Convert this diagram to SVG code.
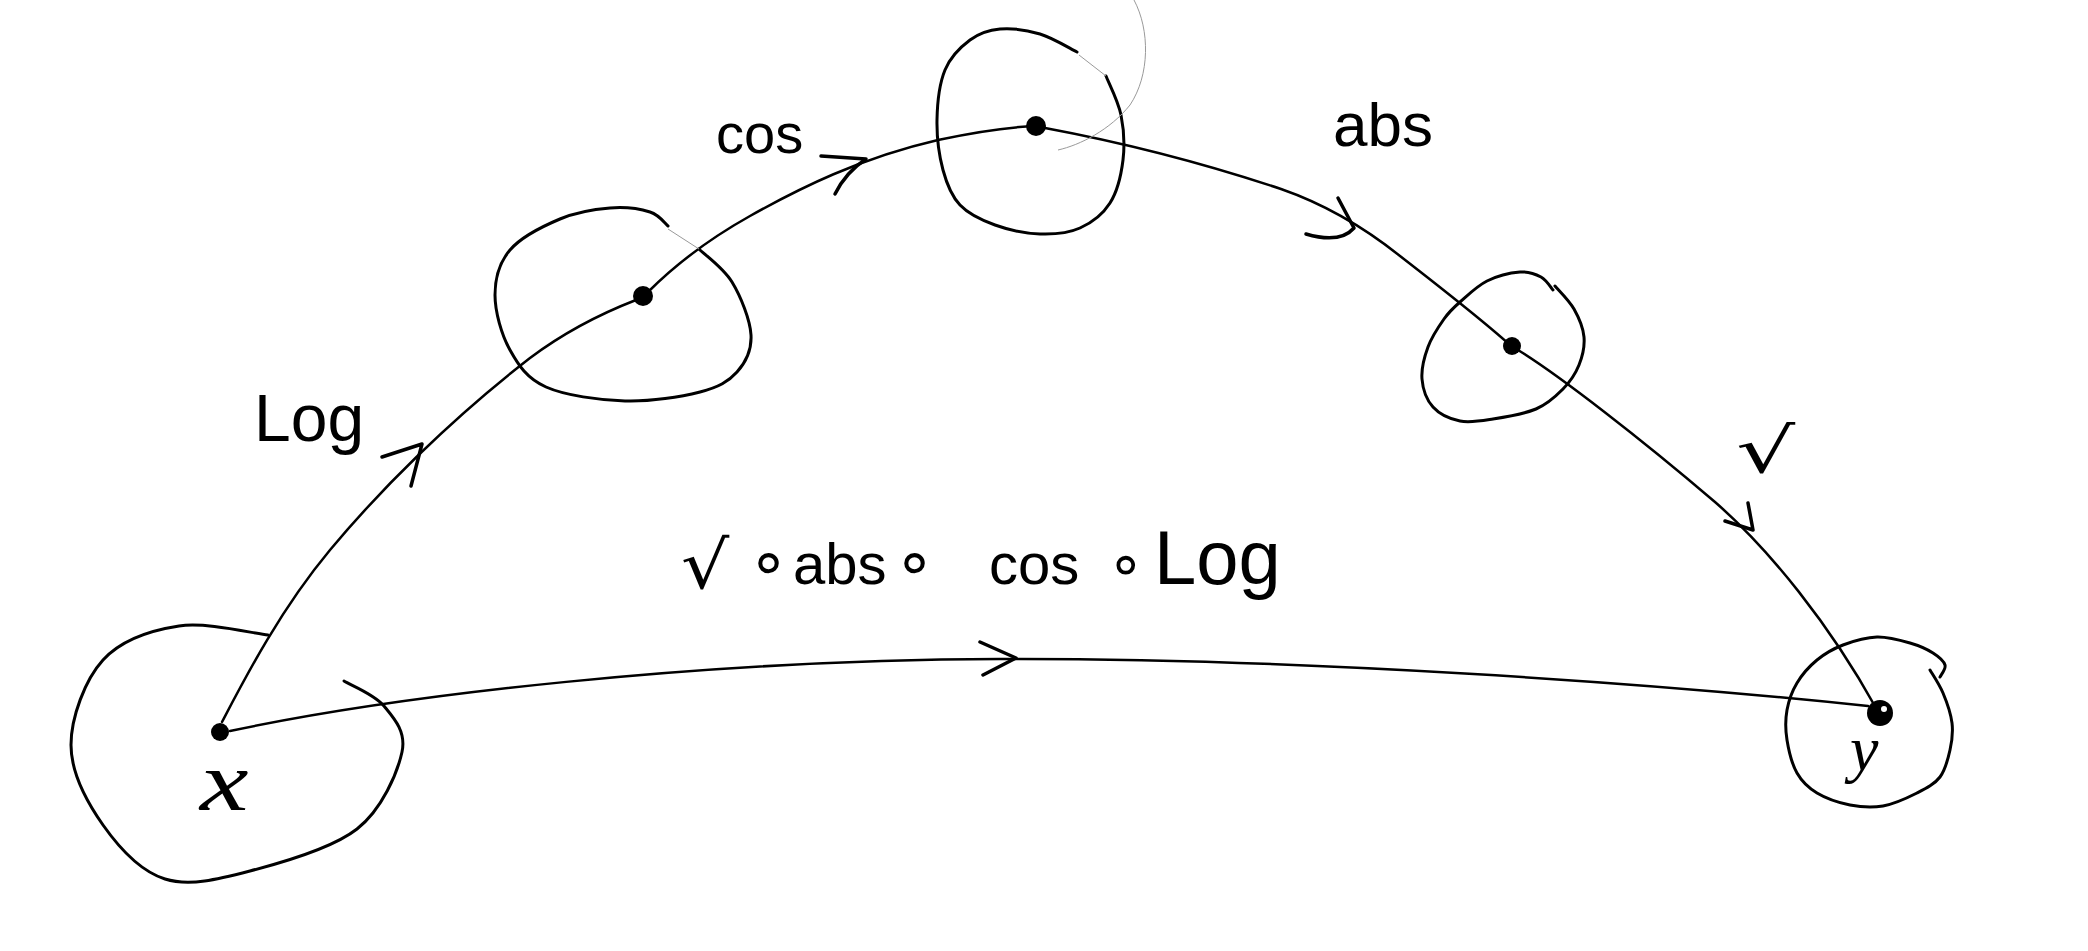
<svg xmlns="http://www.w3.org/2000/svg" width="2088" height="951" viewBox="0 0 2088 951">
<style>
.blob{fill:none;stroke:#000;stroke-width:3;stroke-linecap:round;stroke-linejoin:round}
.faint{fill:none;stroke:#9a9a9a;stroke-width:1}
.edge{fill:none;stroke:#000;stroke-width:2.5;stroke-linecap:round;stroke-linejoin:round}
.head{fill:none;stroke:#000;stroke-width:3.5;stroke-linecap:round;stroke-linejoin:round}
.dot{fill:#000}
.lbl{font-family:"Liberation Sans","DejaVu Sans",sans-serif;fill:#000}
.sym{font-family:"DejaVu Sans","Liberation Sans",sans-serif;fill:#000}
.var{font-family:"Liberation Serif","DejaVu Serif",serif;font-style:italic;fill:#000}
</style>
<rect width="2088" height="951" fill="#fff"/>

<g id="connectors">
  <path class="edge" d="M222,722 C245,678 280,610 330,550 C380,490 450,420 530,358 C570,328 605,312 636,300"/>
  <path class="head" d="M382,457 L422,444 L411,486"/>
  <path class="edge" d="M648,292 C670,270 700,244 750,216 C800,188 860,158 938,140 C980,131 1010,127 1036,126"/>
  <path class="head" d="M821,156 L866,159 Q846,172 835,194"/>
  <path class="edge" stroke-width="2" d="M1045,128 C1120,142 1200,162 1281,189 C1330,206 1370,232 1400,256 C1440,287 1480,318 1510,345"/>
  <path class="head" d="M1338,198 L1354,228 Q1340,244 1306,234"/>
  <path class="edge" d="M1518,350 C1560,376 1640,438 1715,502 C1770,550 1830,625 1876,708"/>
  <path class="head" d="M1748,503 L1753,530 L1725,521"/>
  <path class="edge" d="M230,731 C400,695 700,660 1000,659 C1300,658 1650,683 1868,706"/>
  <path class="head" d="M980,642 L1016,658 L983,675"/>
  <text class="lbl" x="254" y="441" font-size="66">Log</text>
  <text class="lbl" x="716" y="153" font-size="56">cos</text>
  <text class="lbl" x="1333" y="146" font-size="62">abs</text>
  <text class="sym" transform="translate(1736,472) scale(1.5,1)" font-size="62">√</text>
</g>

<g id="node-x">
  <path class="blob" d="M268,635 C253,633.5 206.5,621.8 179,626 C151.5,630.2 121,640.2 103,660 C85,679.8 71,717.5 71,745 C71,772.5 87.3,802.7 103,825 C118.7,847.3 140.5,871.3 165,879 C189.5,886.7 218,879.3 250,871 C282,862.7 331.7,848.8 357,829 C382.3,809.2 397.5,772.5 402,752 C406.5,731.5 393.7,717.8 384,706 C374.3,694.2 350.7,685.2 344,681"/>
  <circle class="dot" cx="220" cy="732" r="9"/>
  <text class="var" transform="translate(200,810) scale(1.3,1)" font-size="84">x</text>
</g>

<g id="node-log">
  <path class="blob" d="M699,249 C704.5,254.5 723.3,267.7 732,282 C740.7,296.3 750.2,320 751,335 C751.8,350 745.5,362.5 737,372 C728.5,381.5 718.7,387.2 700,392 C681.3,396.8 650.7,401.8 625,401 C599.3,400.2 565.2,395.5 546,387 C526.8,378.5 518.5,365.3 510,350 C501.5,334.7 495,311.7 495,295 C495,278.3 499.2,262.7 510,250 C520.8,237.3 543.3,226 560,219 C576.7,212 595,209.2 610,208 C625,206.8 640.3,209 650,212 C659.7,215 665,223.7 668,226"/>
  <path class="faint" d="M668,229 L699,249"/>
  <circle class="dot" cx="643" cy="296" r="10"/>
</g>

<g id="node-cos">
  <path class="blob" d="M1106,76 C1108.5,82.5 1118.2,101 1121,115 C1123.8,129 1124.8,145.3 1123,160 C1121.2,174.7 1117.2,191.7 1110,203 C1102.8,214.3 1091.7,222.8 1080,228 C1068.3,233.2 1054.2,234.5 1040,234 C1025.8,233.5 1008.3,229.8 995,225 C981.7,220.2 968.7,214.2 960,205 C951.3,195.8 946.8,184.2 943,170 C939.2,155.8 936.7,136.7 937,120 C937.3,103.3 939.5,83.3 945,70 C950.5,56.7 960.8,46.8 970,40 C979.2,33.2 988.3,30 1000,29 C1011.7,28 1027.2,30.2 1040,34 C1052.8,37.8 1070.8,49 1077,52"/>
  <path class="faint" d="M1079,55 L1106,76"/>
  <path class="faint" d="M1134,0 C1150,30 1150,75 1130,105 C1110,130 1080,145 1058,150"/>
  <circle class="dot" cx="1036" cy="126" r="10"/>
</g>

<g id="node-abs">
  <path class="blob" d="M1555,286 C1558.2,289.8 1569.2,300.5 1574,309 C1578.8,317.5 1583.2,327.7 1584,337 C1584.8,346.3 1582.5,356.3 1579,365 C1575.5,373.7 1570.2,381.7 1563,389 C1555.8,396.3 1547.7,404 1536,409 C1524.3,414 1505.7,417 1493,419 C1480.3,421 1470,423 1460,421 C1450,419 1439.3,414 1433,407 C1426.7,400 1422.8,389 1422,379 C1421.2,369 1424.3,357 1428,347 C1431.7,337 1438.7,326.5 1444,319 C1449.3,311.5 1452.8,308.3 1460,302 C1467.2,295.7 1477,286 1487,281 C1497,276 1511,272.7 1520,272 C1529,271.3 1535.5,274 1541,277 C1546.5,280 1551,287.8 1553,290"/>
  <circle class="dot" cx="1512" cy="346" r="9"/>
</g>

<g id="node-y">
  <path class="blob" d="M1930,670 C1932.2,673.8 1939.3,684.2 1943,693 C1946.7,701.8 1950.8,713.5 1952,723 C1953.2,732.5 1952,741 1950,750 C1948,759 1945.5,769.8 1940,777 C1934.5,784.2 1926.5,788.2 1917,793 C1907.5,797.8 1894.2,804 1883,806 C1871.8,808 1861,807.2 1850,805 C1839,802.8 1825.8,798.3 1817,793 C1808.2,787.7 1802,781.8 1797,773 C1792,764.2 1788.7,750.5 1787,740 C1785.3,729.5 1785.3,719.5 1787,710 C1788.7,700.5 1792,691.3 1797,683 C1802,674.7 1809.3,666.3 1817,660 C1824.7,653.7 1833,648.8 1843,645 C1853,641.2 1865.8,637.3 1877,637 C1888.2,636.7 1900.7,640.3 1910,643 C1919.3,645.7 1927.2,649.3 1933,653 C1938.8,656.7 1943.8,661 1945,665 C1946.2,669 1940.8,675 1940,677"/>
  <circle class="dot" cx="1880" cy="713" r="13"/>
  <circle fill="#fff" cx="1884" cy="709" r="3"/>
  <text class="var" x="1850" y="770" font-size="64">y</text>
</g>

<g id="composite-label">
  <text class="sym" transform="translate(681,588) scale(1.15,1)" font-size="66">√</text>
  <text class="lbl" font-size="58" y="584"><tspan class="sym" x="748" font-size="66">∘</tspan><tspan x="793">abs</tspan><tspan class="sym" x="894" font-size="66">∘</tspan><tspan x="989">cos</tspan><tspan class="sym" x="1107" font-size="60">∘</tspan><tspan x="1154" font-size="76">Log</tspan></text>
</g>
</svg>
